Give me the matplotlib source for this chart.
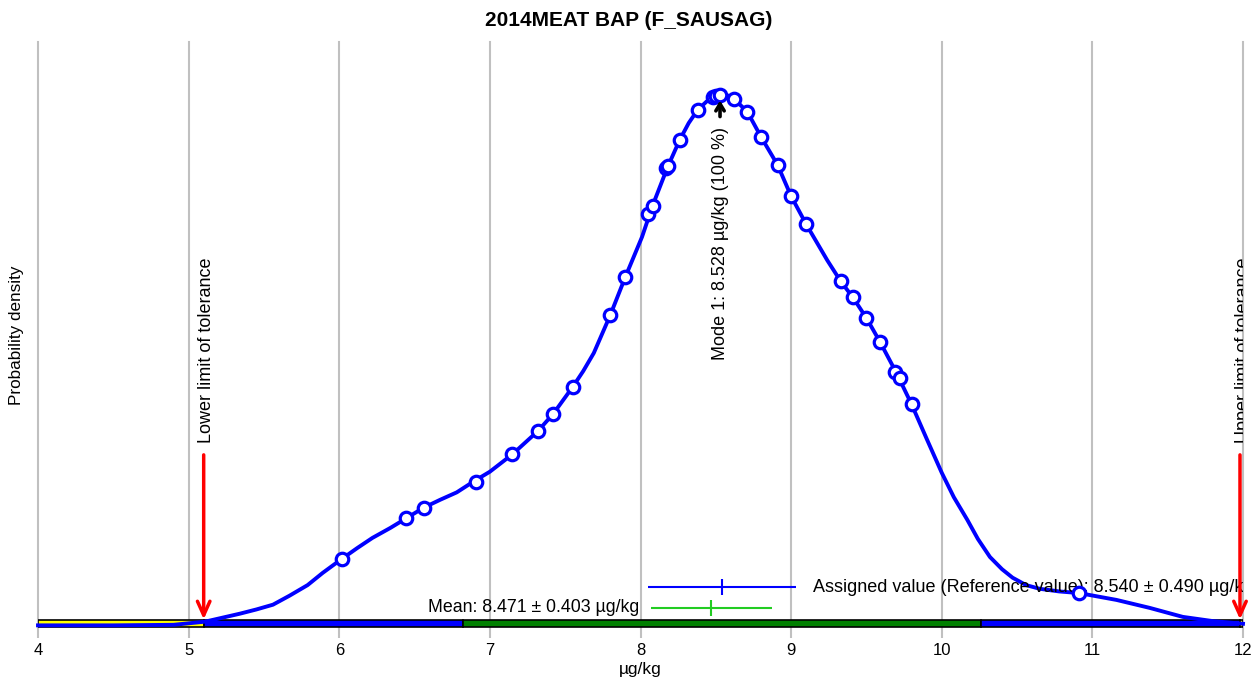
import numpy as np
import matplotlib.pyplot as plt
from matplotlib.patches import Rectangle

plt.rcParams['font.family'] = ['Liberation Sans', 'DejaVu Sans']

# --- Data (density scaled so the mode = 1) ---
curve_x = [4.0, 4.5, 4.9, 5.11, 5.34, 5.45, 5.56, 5.67, 5.79, 5.89, 6.01, 6.12, 6.22, 6.34,
           6.45, 6.56, 6.67, 6.78, 6.90, 7.00, 7.15, 7.32, 7.42, 7.55, 7.62, 7.69, 7.80,
           7.90, 8.01, 8.06, 8.08, 8.18, 8.26, 8.32, 8.38, 8.44, 8.50, 8.53, 8.58, 8.62,
           8.71, 8.80, 8.91, 9.00, 9.10, 9.24, 9.33, 9.41, 9.50, 9.59, 9.70, 9.80, 9.90,
           10.00, 10.08, 10.17, 10.24, 10.32, 10.40, 10.47, 10.56, 10.65, 10.78, 10.91,
           11.16, 11.38, 11.60, 11.80, 12.00]
curve_y = [0.0, 0.0, 0.001, 0.007, 0.022, 0.030, 0.039, 0.056, 0.076, 0.099, 0.124, 0.146,
           0.165, 0.184, 0.203, 0.222, 0.237, 0.251, 0.273, 0.290, 0.323, 0.367, 0.399, 0.450,
           0.480, 0.514, 0.586, 0.658, 0.733, 0.775, 0.792, 0.865, 0.916, 0.948, 0.973, 0.989,
           0.997, 1.001, 1.000, 0.994, 0.969, 0.922, 0.869, 0.810, 0.757, 0.689, 0.649, 0.619,
           0.580, 0.535, 0.476, 0.417, 0.352, 0.288, 0.242, 0.199, 0.163, 0.129, 0.106, 0.090,
           0.076, 0.069, 0.064, 0.061, 0.048, 0.033, 0.016, 0.008, 0.003]

# participant results (circles on the curve)
result_x = [6.02, 6.44, 6.56, 6.91, 7.15, 7.32, 7.42, 7.55, 7.80, 7.90, 8.05, 8.08,
            8.17, 8.18, 8.26, 8.38, 8.48, 8.50, 8.53, 8.62, 8.71, 8.80, 8.91, 9.00,
            9.10, 9.33, 9.41, 9.50, 9.59, 9.69, 9.72, 9.80, 10.91]
result_y = [0.126, 0.203, 0.222, 0.271, 0.323, 0.367, 0.399, 0.450, 0.586, 0.658, 0.777, 0.792,
            0.863, 0.867, 0.916, 0.973, 0.997, 1.000, 1.001, 0.994, 0.969, 0.922, 0.869, 0.810,
            0.757, 0.649, 0.619, 0.580, 0.535, 0.478, 0.467, 0.417, 0.061]

assigned_value = 8.540
assigned_unc = 0.490
mean_value = 8.471
mean_unc = 0.403
mode_value = 8.528
lower_limit = 5.10
upper_limit = 11.98

# tolerance band along the x axis
band_edges = [4.0, 5.10, 6.82, 10.26, 11.98, 12.0]
band_colors = ['#ffff00', '#0000ff', '#008000', '#0000ff', '#ffff00']

fig = plt.figure(figsize=(12.57, 6.84), dpi=100)
ax = fig.add_axes([38 / 1257, 1 - 628 / 684, 1205 / 1257, 586 / 684])
ax.set_xlim(4, 12)
ax.set_ylim(-0.005, 1.101)

# grid lines (including the frame edges)
for gx in range(4, 13):
    ax.axvline(gx, color='#c0c0c0', lw=1.5, zorder=0, clip_on=False)
for s in ax.spines.values():
    s.set_visible(False)
ax.set_xticks(range(4, 13))
ax.set_yticks([])
ax.tick_params(axis='x', length=7, width=1.5, color='#c0c0c0', labelsize=12, pad=4)

# coloured tolerance band
for i, c in enumerate(band_colors):
    ax.add_patch(Rectangle((band_edges[i], -0.003), band_edges[i + 1] - band_edges[i], 0.013,
                           facecolor=c, edgecolor='black', lw=1.2, zorder=2))

# density curve with results
ax.plot(curve_x, curve_y, color='#0000ff', lw=2.8, zorder=3, clip_on=False, solid_joinstyle='round')
ax.plot(result_x, result_y, 'o', ms=9, mfc='white', mec='#0000ff', mew=2.3, zorder=4)

# mode marker
ax.annotate('', xy=(mode_value, 0.996), xytext=(mode_value, 0.955),
            arrowprops=dict(arrowstyle='->,head_length=0.5,head_width=0.3', color='black', lw=2.6),
            zorder=5)
ax.text(mode_value, 0.940, 'Mode 1: 8.528 µg/kg (100 %)', rotation=90, ha='center', va='top',
        fontsize=13, zorder=5)

# tolerance limits
for lim, label in [(lower_limit, 'Lower limit of tolerance'), (upper_limit, 'Upper limit of tolerance')]:
    ax.annotate('', xy=(lim, 0.006), xytext=(lim, 0.327),
                arrowprops=dict(arrowstyle='->,head_length=1.0,head_width=0.45', color='#ff0000', lw=2.5),
                zorder=5)
    ax.text(lim + 0.02, 0.345, label, rotation=90, ha='center', va='bottom', fontsize=13, clip_on=True)

# assigned value and mean with uncertainty
ax.errorbar(assigned_value, 0.072, xerr=assigned_unc, fmt='|', ms=11, mew=1.5,
            color='#0000ff', elinewidth=1.5, capsize=0, zorder=4)
ax.text(9.146, 0.072, 'Assigned value (Reference value): 8.540 ± 0.490 µg/kg',
        ha='left', va='center', fontsize=13, clip_on=True)
ax.errorbar(mean_value, 0.033, xerr=mean_unc, fmt='|', ms=11, mew=1.5,
            color='#22cc22', elinewidth=1.5, capsize=0, zorder=4)
ax.text(7.99, 0.033, 'Mean: 8.471 ± 0.403 µg/kg', ha='right', va='center', fontsize=12.8)

ax.set_xlabel('µg/kg', fontsize=12.5, labelpad=3)
fig.text(17 / 1257, 1 - 335 / 684, 'Probability density', rotation=90, ha='center', va='center', fontsize=12.3)
fig.suptitle('2014MEAT BAP (F_SAUSAG)', fontsize=15, fontweight='bold', y=1 - 21 / 684, va='center')

plt.savefig('out.png', dpi=100)
